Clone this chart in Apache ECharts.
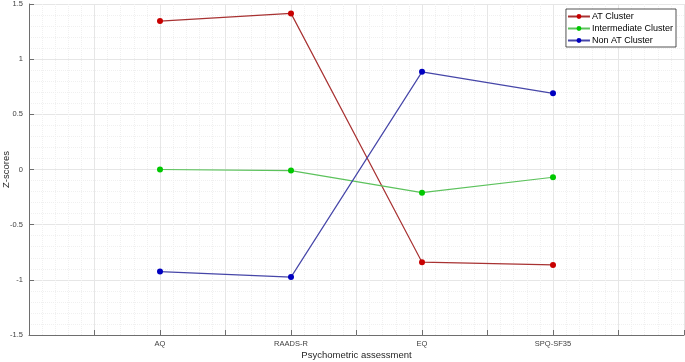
<!DOCTYPE html>
<html>
<head>
<meta charset="utf-8">
<script src="https://cdn.jsdelivr.net/npm/echarts@6/dist/echarts.min.js"></script>
<style>
  html, body { margin: 0; padding: 0; background: #fff; }
  #chart { width: 685px; height: 362px; }
</style>
</head>
<body>
<div id="chart"></div>
<script>
// categories and where they sit on the numeric x axis
const categories = ['AQ', 'RAADS-R', 'EQ', 'SPQ-SF35']
const positions = [2, 4, 6, 8]

// z-scores per cluster
const atCluster = [1.345, 1.415, -0.84, -0.865]
const intermediateCluster = [0.0, -0.01, -0.21, -0.07]
const nonAtCluster = [-0.925, -0.975, 0.885, 0.69]

const pairs = vals => vals.map((v, i) => [positions[i], v])

const axisGray = '#6e6e6e'
const font = 'Liberation Sans, Arial, sans-serif'

const makeSeries = (name, vals, lineColor, dotColor) => ({
  name: name,
  type: 'line',
  data: pairs(vals),
  symbol: 'circle',
  symbolSize: 6,
  lineStyle: { color: lineColor, width: 1.2 },
  itemStyle: { color: dotColor },
  emphasis: { disabled: true }
})

let chart = echarts.init(document.getElementById('chart'))

let option = {
  animation: false,
  grid: { left: 29, right: 1, top: 4, bottom: 27, outerBoundsMode: 'none', containLabel: false },
  legend: {
    orient: 'vertical',
    right: 9,
    top: 9,
    itemWidth: 22,
    itemHeight: 6,
    itemGap: 3,
    padding: [3, 3, 2, 1],
    borderColor: '#262626',
    borderWidth: 0.8,
    backgroundColor: '#fff',
    textStyle: { fontFamily: font, fontSize: 9, color: '#000', padding: [0, 0, 0, -3] },
    data: ['AT Cluster', 'Intermediate Cluster', 'Non AT Cluster']
  },
  xAxis: {
    type: 'value',
    min: 0,
    max: 10,
    interval: 1,
    name: 'Psychometric assessment',
    nameLocation: 'middle',
    nameGap: 15,
    nameMoveOverlap: false,
    nameTextStyle: { fontFamily: font, fontSize: 9.5, color: '#262626' },
    axisLine: { show: true, onZero: false, lineStyle: { color: axisGray, width: 1 } },
    axisTick: { show: true, inside: true, length: 5, lineStyle: { color: axisGray } },
    axisLabel: {
      fontFamily: font, fontSize: 7.5, color: '#404040', margin: 5,
      formatter: v => {
        const i = positions.indexOf(v)
        return i >= 0 ? categories[i] : ''
      }
    },
    splitLine: { show: true, lineStyle: { color: '#e6e6e6', width: 1 } },
    minorTick: { show: false, splitNumber: 5 },
    minorSplitLine: { show: true, lineStyle: { color: '#f0f0f0', width: 1, type: [1, 1] } }
  },
  yAxis: {
    type: 'value',
    min: -1.5,
    max: 1.5,
    interval: 0.5,
    name: 'Z-scores',
    nameLocation: 'middle',
    nameGap: 18,
    nameMoveOverlap: false,
    nameTextStyle: { fontFamily: font, fontSize: 9.5, color: '#262626' },
    axisLine: { show: true, lineStyle: { color: axisGray, width: 1 } },
    axisTick: { show: true, inside: true, length: 5, lineStyle: { color: axisGray } },
    axisLabel: { fontFamily: font, fontSize: 7.5, color: '#404040', margin: 6 },
    splitLine: { show: true, lineStyle: { color: '#e6e6e6', width: 1 } },
    minorTick: { show: false, splitNumber: 5 },
    minorSplitLine: { show: true, lineStyle: { color: '#f0f0f0', width: 1, type: [1, 1] } }
  },
  series: [
    makeSeries('AT Cluster', atCluster, '#a83232', '#c80000'),
    makeSeries('Intermediate Cluster', intermediateCluster, '#5cc25c', '#00c800'),
    makeSeries('Non AT Cluster', nonAtCluster, '#4646a8', '#0000c0')
  ]
}

chart.setOption(option)
</script>
</body>
</html>
